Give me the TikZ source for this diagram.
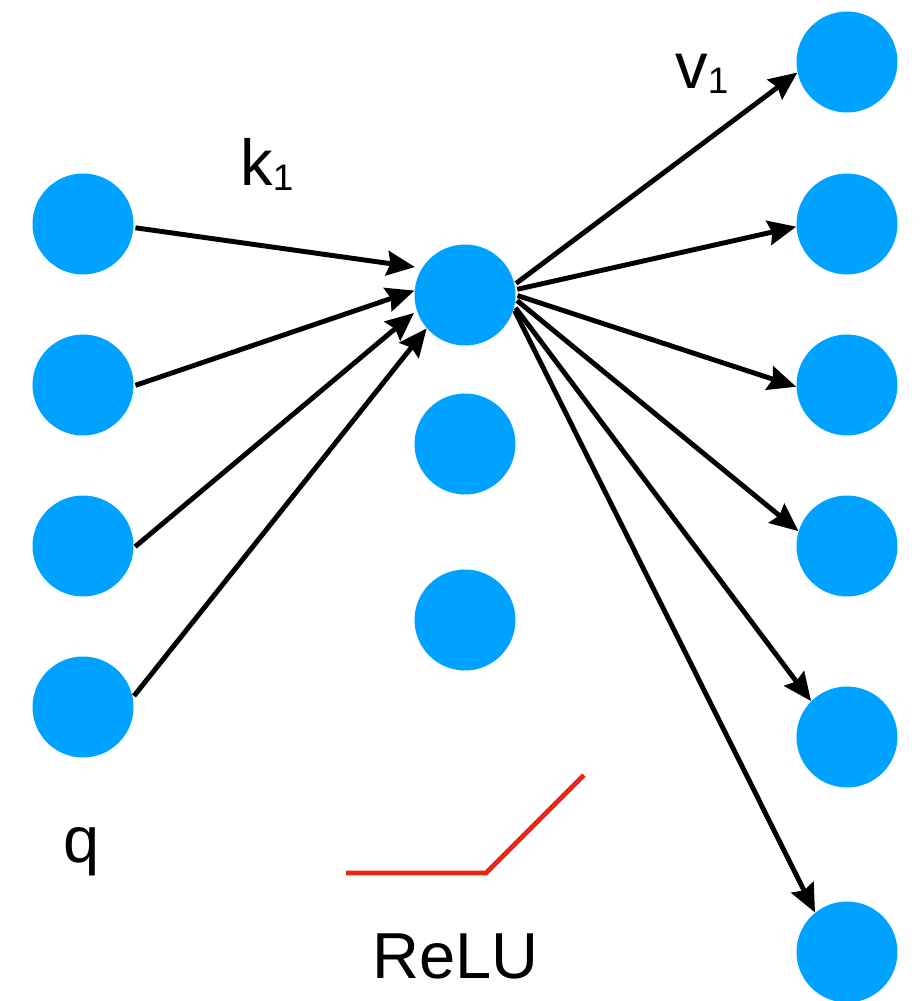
\documentclass[tikz,border=0pt]{standalone}
\usepackage{fontspec}
\setmainfont{Liberation Sans}
\usetikzlibrary{arrows.meta}

\definecolor{neuron}{RGB}{0,162,255}
\definecolor{relured}{RGB}{238,36,18}
\newcommand{\lowone}{\raisebox{-3pt}{\fontsize{21}{21}\selectfont 1}}

\tikzset{
  unit/.style={circle,fill=neuron,inner sep=0pt,minimum size=2.02cm},
  wire/.style={line width=2.8pt,-{Stealth[length=16pt,width=14pt,inset=2pt]},shorten <=1pt},
  lbl/.style={font=\fontsize{37}{37}\selectfont,inner sep=0pt,anchor=base west},
}

\begin{document}
\begin{tikzpicture}[x=0.02cm,y=-0.02cm]
  \useasboundingbox (0,0) rectangle (923,1001);
  % query
  \node[unit] (q1) at (83,224) {};
  \node[unit] (q2) at (83,385) {};
  \node[unit] (q3) at (83,546) {};
  \node[unit] (q4) at (83,707) {};
  % keys
  \node[unit] (h1) at (465,295) {};
  \node[unit] (h2) at (465,444) {};
  \node[unit] (h3) at (465,620) {};
  % values
  \node[unit] (o1) at (847,62) {};
  \node[unit] (o2) at (847,224) {};
  \node[unit] (o3) at (847,385) {};
  \node[unit] (o4) at (847,546) {};
  \node[unit] (o5) at (847,737) {};
  \node[unit] (o6) at (847,952) {};
  % q -> k1
  \draw[wire,shorten >=4pt] (q1.-4) -- (h1.148);
  \draw[wire] (q2.-1) -- (h1.175);
  \draw[wire,shorten >=2pt] (q3.-2) -- (h1.198);
  \draw[wire] (q4.11) -- (h1.221);
  % k1 -> v1
  \draw[wire] (h1.12) -- (o1.192);
  \draw[wire] (h1.6) -- (o2.183);
  \draw[wire] (h1.0) -- (o3.182);
  \draw[wire] (h1.-5) -- (o4.163);
  \draw[wire] (h1.-13) -- (o5.135);
  \draw[wire] (h1.-16) -- (o6.129);
  % labels
  \node[lbl] (klbl) at (240,185) {k\lowone};
  \node[lbl] (vlbl) at (675,88) {v\lowone};
  \node[lbl] (qlbl) at (63,862) {q};
  \node[lbl] (relulbl) at (372,978) {ReLU};
  % relu sketch
  \draw[relured,line width=2.8pt] (346,873) -- (486,873) -- (584,775);
\end{tikzpicture}
\end{document}
